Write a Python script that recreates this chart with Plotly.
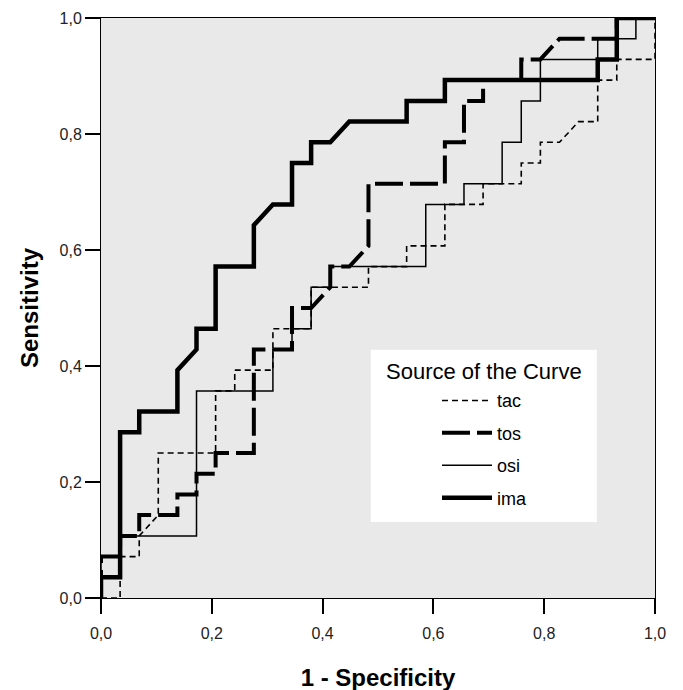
import plotly.graph_objects as go

# ROC coordinates (1 - specificity, sensitivity)
tac_fpr = [0, 0.0345, 0.0345, 0.069, 0.069, 0.1034, 0.1034, 0.2069, 0.2069, 0.2414, 0.2414, 0.3103, 0.3103,
           0.3793, 0.3793, 0.4828, 0.4828, 0.5517, 0.5517, 0.6207, 0.6207, 0.6897, 0.6897, 0.7586, 0.7586,
           0.7931, 0.7931, 0.8276, 0.8621, 0.8966, 0.8966, 0.931, 0.931, 1, 1]
tac_tpr = [0, 0, 0.0714, 0.0714, 0.1071, 0.1429, 0.25, 0.25, 0.3571, 0.3571, 0.3929, 0.3929, 0.4643,
           0.4643, 0.5357, 0.5357, 0.5714, 0.5714, 0.6071, 0.6071, 0.6786, 0.6786, 0.7143, 0.7143, 0.75,
           0.75, 0.7857, 0.7857, 0.8214, 0.8214, 0.8929, 0.8929, 0.9286, 0.9286, 1]

tos_fpr = [0, 0, 0.0345, 0.0345, 0.069, 0.069, 0.1379, 0.1379, 0.1724, 0.1724, 0.2069, 0.2069, 0.2759,
           0.2759, 0.3448, 0.3448, 0.3793, 0.4138, 0.4138, 0.4483, 0.4828, 0.4828, 0.6207, 0.6207, 0.6552,
           0.6552, 0.6897, 0.6897, 0.7586, 0.7586, 0.7931, 0.8276, 0.931, 0.931, 1]
tos_tpr = [0, 0.0714, 0.0714, 0.1071, 0.1071, 0.1429, 0.1429, 0.1786, 0.1786, 0.2143, 0.2143, 0.25, 0.25,
           0.4286, 0.4286, 0.5, 0.5, 0.5357, 0.5714, 0.5714, 0.6071, 0.7143, 0.7143, 0.7857, 0.7857,
           0.8571, 0.8571, 0.8929, 0.8929, 0.9286, 0.9286, 0.9643, 0.9643, 1, 1]

osi_fpr = [0, 0, 0.0345, 0.0345, 0.1724, 0.1724, 0.3103, 0.3103, 0.3448, 0.3448, 0.3793, 0.3793, 0.4138,
           0.4138, 0.5862, 0.5862, 0.6552, 0.6552, 0.7241, 0.7241, 0.7586, 0.7586, 0.7931, 0.7931, 0.8966,
           0.8966, 0.9655, 0.9655, 1]
osi_tpr = [0, 0.0714, 0.0714, 0.1071, 0.1071, 0.3571, 0.3571, 0.4286, 0.4286, 0.4643, 0.4643, 0.5357, 0.5357,
           0.5714, 0.5714, 0.6786, 0.6786, 0.7143, 0.7143, 0.7857, 0.7857, 0.8571, 0.8571, 0.9286, 0.9286,
           0.9643, 0.9643, 1, 1]

ima_fpr = [0, 0, 0.0345, 0.0345, 0.069, 0.069, 0.1379, 0.1379, 0.1724, 0.1724, 0.2069, 0.2069, 0.2759,
           0.2759, 0.3103, 0.3448, 0.3448, 0.3793, 0.3793, 0.4138, 0.4483, 0.5517, 0.5517, 0.6207, 0.6207,
           0.8966, 0.8966, 0.931, 0.931, 1]
ima_tpr = [0, 0.0357, 0.0357, 0.2857, 0.2857, 0.3214, 0.3214, 0.3929, 0.4286, 0.4643, 0.4643, 0.5714, 0.5714,
           0.6429, 0.6786, 0.6786, 0.75, 0.75, 0.7857, 0.7857, 0.8214, 0.8214, 0.8571, 0.8571, 0.8929,
           0.8929, 0.9286, 0.9286, 1, 1]

tick_vals = [0, 0.2, 0.4, 0.6, 0.8, 1.0]

FONT = "Arial, Liberation Sans, sans-serif"

series = [
    ("tac", tac_fpr, tac_tpr, dict(color="black", width=1.6, dash="6px,4px")),
    ("tos", tos_fpr, tos_tpr, dict(color="black", width=4, dash="28px,7px")),
    ("osi", osi_fpr, osi_tpr, dict(color="black", width=1.5)),
    ("ima", ima_fpr, ima_tpr, dict(color="black", width=4.5)),
]

fig = go.Figure()
for name, xs, ys, ln in series:
    fig.add_trace(go.Scatter(x=xs, y=ys, mode="lines", name=name, line=ln,
                             legendgroup=name, hoverinfo="skip"))

axis_common = dict(
    range=[0, 1], tickvals=tick_vals, tickformat=".1f", automargin=False,
    showgrid=False, zeroline=False, showline=True, linecolor="black", linewidth=1,
    mirror=True, ticks="outside", ticklen=15, tickwidth=1.5, tickcolor="black",
    tickfont=dict(family=FONT, size=16, color="#222"),
)

fig.update_layout(
    width=683, height=690,
    margin=dict(l=93, r=36, t=10, b=100, autoexpand=False),
    paper_bgcolor="white", plot_bgcolor="#e9e9e9",
    separators=", ",
    xaxis=dict(axis_common, ticklabelstandoff=6,
               title=dict(text="1 - Specificity", standoff=27,
                          font=dict(family=FONT, size=24, color="black", weight="bold"))),
    yaxis=dict(axis_common,
               title=dict(text="Sensitivity", standoff=14,
                          font=dict(family=FONT, size=24, color="black", weight="bold"))),
    showlegend=True,
    legend=dict(x=0.6065, y=0.372, xanchor="left", yanchor="top",
                bgcolor="rgba(0,0,0,0)", borderwidth=0,
                font=dict(family=FONT, size=18, color="black"),
                traceorder="grouped", tracegroupgap=6, itemwidth=50,
                itemclick=False, itemdoubleclick=False),
    shapes=[dict(type="rect", xref="x", yref="y", x0=0.487, x1=0.895, y0=0.131, y1=0.428,
                 fillcolor="white", line=dict(width=0), layer="below")],
    annotations=[dict(text="Source of the Curve", xref="x", yref="y", x=0.691, y=0.39,
                      showarrow=False, font=dict(family=FONT, size=22, color="black"))],
)

fig.write_html("out.html")
